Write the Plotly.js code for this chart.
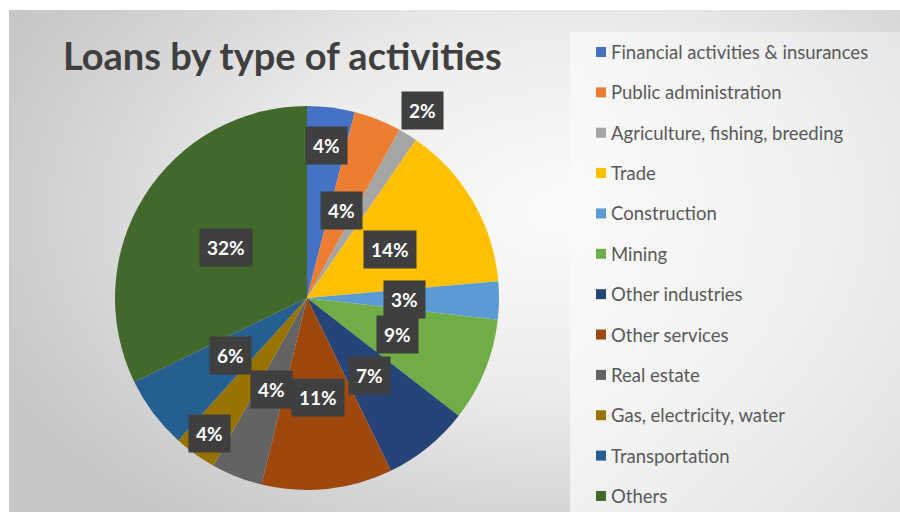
<!DOCTYPE html>
<html>
<head>
<meta charset="utf-8">
<script src="https://cdn.plot.ly/plotly-3.0.1.min.js"></script>
<style>
  html, body { margin: 0; padding: 0; background: #ffffff; }
  #wrap { position: relative; width: 900px; height: 512px; overflow: hidden; background: #ffffff; }
  #bg { position: absolute; left: 9px; top: 10px; right: 0; bottom: 0;
        background: radial-gradient(ellipse 70% 80% at 62% 40%, #fbfbfb 0%, #ececec 45%, #cfcfcf 85%, #c6c6c6 100%); }
  #panel { position: absolute; left: 570px; top: 32px; right: 0; bottom: 0;
        background: linear-gradient(to right, rgba(250,250,250,0.75), rgba(238,238,238,0.6)); }
  #chart { position: absolute; left: 0; top: 0; width: 900px; height: 512px; }
</style>
</head>
<body>
<div id="wrap"><div id="bg"></div><div id="panel"></div><div id="chart"></div></div>
<script>
// ---- data ----
const categories = [
  "Financial activities & insurances",
  "Public administration",
  "Agriculture, fishing, breeding",
  "Trade",
  "Construction",
  "Mining",
  "Other industries",
  "Other services",
  "Real estate",
  "Gas, electricity, water",
  "Transportation",
  "Others"
];
const shares = [4.0, 4.0, 1.6, 14.0, 3.2, 8.7, 7.3, 11.0, 4.3, 3.6, 6.1, 32.2];
const colors = ["#4472C4", "#ED7D31", "#A5A5A5", "#FFC000", "#5B9BD5", "#70AD47",
                "#264478", "#9E480E", "#636363", "#997300", "#255E91", "#43682B"];
const chartTitle = "Loans by type of activities";

// ---- label placement (radial fraction of pie radius for each label) ----
const labelRadius = [0.80, 0.49, 1.15, 0.50, 0.51, 0.51, 0.52, 0.52, 0.51, 0.87, 0.50, 0.50];

const W = 900, H = 512;
const cx = 307, cy = 298, R = 192;   // pie centre / radius in pixels
const domain = {
  x: [(cx - R) / W, (cx + R) / W],
  y: [(H - cy - R) / H, (H - cy + R) / H]
};

const total = shares.reduce((a, b) => a + b, 0);
const annotations = [];
let cum = 0;
shares.forEach((v, i) => {
  const mid = (cum + v / 2) / total * 2 * Math.PI;
  cum += v;
  const r = labelRadius[i] * R;
  const px = cx + r * Math.sin(mid);
  const py = cy - r * Math.cos(mid);
  annotations.push({
    x: px / W, y: 1 - py / H, xref: "paper", yref: "paper",
    text: "<b>" + Math.round(v / total * 100) + "%</b>",
    showarrow: false, xanchor: "center", yanchor: "middle",
    font: { family: "Lato, 'Open Sans', sans-serif", size: 19, color: "#ffffff" },
    bgcolor: "#3f3f3f", borderpad: 7
  });
});

// ---- manual legend (to match the wide row spacing) ----
const shapes = [];
const legX = 596, legY0 = 52, legStep = 40.36, sq = 10;
categories.forEach((c, i) => {
  const y = legY0 + i * legStep;
  shapes.push({
    type: "rect", xref: "paper", yref: "paper",
    x0: legX / W, x1: (legX + sq) / W,
    y0: 1 - (y + sq / 2) / H, y1: 1 - (y - sq / 2) / H,
    fillcolor: colors[i], line: { width: 0 }
  });
  annotations.push({
    x: (legX + sq + 3) / W, y: 1 - y / H, xref: "paper", yref: "paper",
    text: c, showarrow: false, xanchor: "left", yanchor: "middle",
    font: { family: "Lato, 'Open Sans', sans-serif", size: 18.5, color: "#595959" }
  });
});

const trace = {
  type: "pie",
  labels: categories,
  values: shares,
  marker: { colors: colors, line: { width: 0 } },
  sort: false,
  direction: "clockwise",
  rotation: 0,
  textinfo: "none",
  hoverinfo: "label+percent",
  domain: domain,
  showlegend: false
};

const layout = {
  width: W, height: H,
  margin: { l: 0, r: 0, t: 0, b: 0 },
  paper_bgcolor: "rgba(0,0,0,0)",
  plot_bgcolor: "rgba(0,0,0,0)",
  showlegend: false,
  title: {
    text: "<b>" + chartTitle + "</b>",
    x: 63 / W, xanchor: "left", xref: "paper",
    y: 1 - 57 / H, yanchor: "middle", yref: "paper",
    font: { family: "Lato, 'Open Sans', sans-serif", size: 38, color: "#3f3f3f" }
  },
  annotations: annotations,
  shapes: shapes
};

Plotly.newPlot("chart", [trace], layout, { displayModeBar: false, staticPlot: true });
</script>
</body>
</html>
